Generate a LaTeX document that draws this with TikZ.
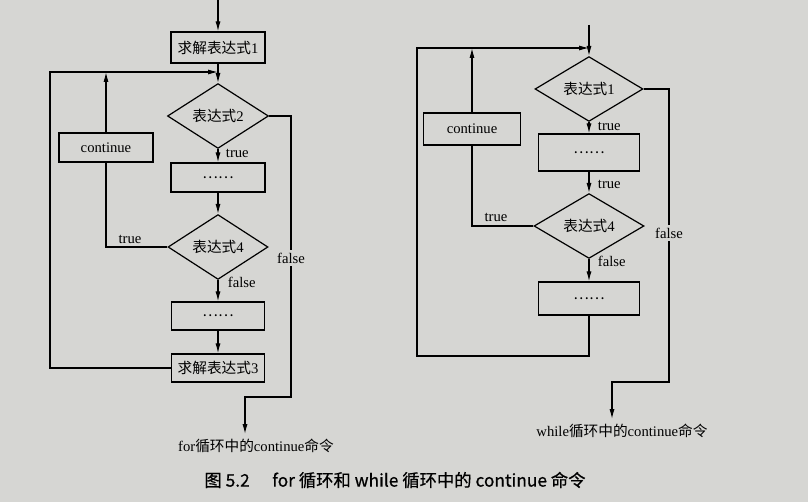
\documentclass[tikz,border=0pt]{standalone}
\usepackage{fontspec}
\setmainfont{Liberation Serif}
\newfontfamily\zhfont{Noto Sans CJK SC}
\newfontfamily\capfont[FakeBold=0.6]{Noto Sans CJK SC}
\usetikzlibrary{shapes.geometric,arrows.meta}
\definecolor{paper}{RGB}{214,214,211}
\newcommand{\zh}[1]{{\zhfont #1}}
\begin{document}
\begin{tikzpicture}[x=0.75pt,y=-0.75pt,
  font=\fontsize{11}{13}\selectfont,
  line width=0.9pt,
  arr/.style={-{Latex[length=7.5pt,width=3.8pt]}},
  pbox/.style={draw, rectangle, inner sep=0pt},
  dia/.style={draw, diamond, inner sep=0pt},
  lbl/.style={inner sep=1pt},
  gap/.style={fill=paper, inner sep=2pt},
]
\fill[paper] (0,0) rectangle (808,502);
\useasboundingbox (0,0) rectangle (808,502);

% ---------------- left chart (for) ----------------
\coordinate (in1) at (218,0);
\coordinate (j1) at (218,72);
\coordinate (lx1) at (50,72);
\coordinate (f1a) at (291,397);
\coordinate (f1b) at (245,397);
\node[pbox, minimum width=70.5pt, minimum height=23.25pt] (b1) at (218,47.5) {\zh{求解表达式}1};
\node[dia, minimum width=75.75pt, minimum height=42pt] (d2) at (218,116) {\zh{表达式}2};
\node[pbox, minimum width=70.5pt, minimum height=21.75pt] (s1) at (218,177.5) {\zh{……}};
\node[pbox, minimum width=70.5pt, minimum height=21.75pt] (c1) at (106,147.5) {continue};
\node[dia, minimum width=75pt, minimum height=39pt] (d4) at (218,247) {\zh{表达式}4};
\node[pbox, minimum width=70pt, minimum height=21pt] (s2) at (218,316) {\zh{……}};
\node[pbox, minimum width=70pt, minimum height=21pt] (b3) at (218,368) {\zh{求解表达式}3};
\node (o1) at (256,446) {for\zh{循环中的}continue\zh{命令}};

\draw[arr] (in1) -- (b1.north);
\draw[arr] (b1.south) -- (d2.north);
\draw[arr] (d2.south) -- (s1.north);
\draw[arr] (s1.south) -- (d4.north);
\draw[arr] (d4.south) -- (s2.north);
\draw[arr] (s2.south) -- (b3.north);
\draw[arr] (b3.west) -| (lx1) -- (j1);
\draw[arr] (c1.north) -- (c1.north |- j1);
\draw (d4.west) -| (c1.south);
\draw[arr] (d2.east) -| (f1a) -- (f1b) -- (f1b |- o1.north);

\node[lbl, anchor=west] (t1) at (224,153) {true};
\node[lbl] (t2) at (130,239) {true};
\node[lbl, anchor=west] (t3) at (226,282) {false};
\node[gap] (t4) at (291,258) {false};

% ---------------- right chart (while) ----------------
\coordinate (in2) at (589,25);
\coordinate (j2) at (589,48);
\coordinate (lx2) at (417,48);
\coordinate (by2) at (589,356);
\coordinate (f2a) at (669,382);
\coordinate (f2b) at (612,382);
\node[dia, minimum width=81pt, minimum height=42pt] (r1) at (589,89) {\zh{表达式}1};
\node[pbox, minimum width=75.75pt, minimum height=27.75pt] (s3) at (589,152.5) {\zh{……}};
\node[dia, minimum width=82.5pt, minimum height=40.5pt] (r4) at (589,226) {\zh{表达式}4};
\node[pbox, minimum width=75.75pt, minimum height=24.75pt] (s4) at (589,298.5) {\zh{……}};
\node[pbox, minimum width=72.75pt, minimum height=24pt] (c2) at (472,129) {continue};
\node (o2) at (622,431) {while\zh{循环中的}continue\zh{命令}};

\draw[arr] (in2) -- (r1.north);
\draw[arr] (r1.south) -- (s3.north);
\draw[arr] (s3.south) -- (r4.north);
\draw[arr] (r4.south) -- (s4.north);
\draw[arr] (s4.south) -- (by2) -| (lx2) -- (j2);
\draw[arr] (c2.north) -- (c2.north |- j2);
\draw (r4.west) -| (c2.south);
\draw[arr] (r1.east) -| (f2a) -- (f2b) -- (f2b |- o2.north);

\node[lbl, anchor=west] (u1) at (596,126) {true};
\node[lbl, anchor=west] (u2) at (596,184) {true};
\node[lbl, anchor=west] (u3) at (596,261) {false};
\node[lbl] (u4) at (496,217) {true};
\node[gap] (u5) at (669,233) {false};

% ---------------- caption ----------------
\node[font=\capfont\fontsize{13}{16}\selectfont] (cap) at (395,480) {图 5.2\hspace{1.3em}for 循环和 while 循环中的 continue 命令};
\end{tikzpicture}
\end{document}
